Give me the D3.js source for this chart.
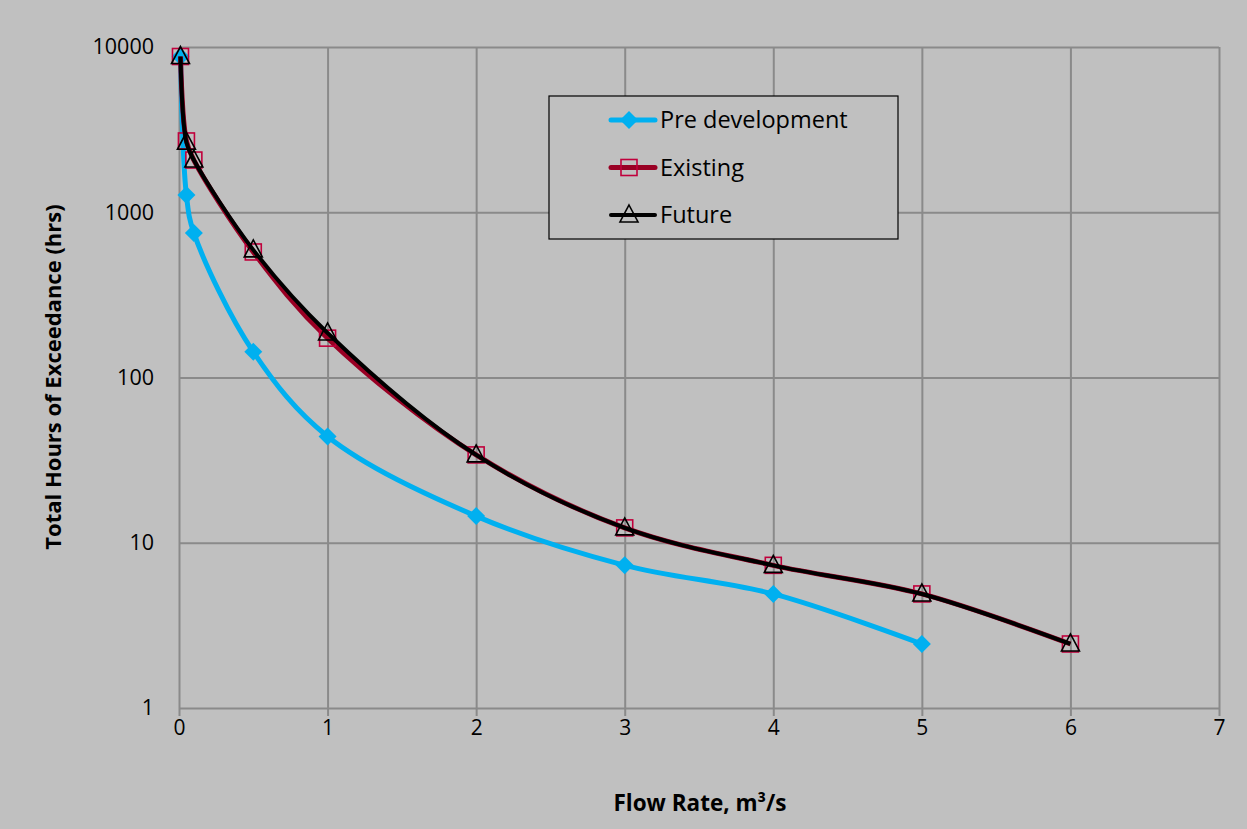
<!DOCTYPE html>
<html>
<head>
<meta charset="utf-8">
<script src="https://cdn.jsdelivr.net/npm/d3@7"></script>
<style>
  body { margin: 0; background: #c0c0c0; }
  text { font-family: "Open Sans", sans-serif; }
</style>
</head>
<body>
<svg id="chart" width="1247" height="829"></svg>
<script>
// flow rates (m3/s) and hours of exceedance
const flowRates = [0.01, 0.05, 0.1, 0.5, 1, 2, 3, 4, 5, 6];
const preDevelopment = [8760, 1270, 750, 143, 44, 14.5, 7.3, 4.9, 2.44];
const existing = [8760, 2700, 2070, 575, 173, 34, 12.3, 7.3, 4.9, 2.44];
const future = [8760, 2650, 2070, 592, 186, 34, 12.3, 7.3, 4.9, 2.44];
const xTicks = [0, 1, 2, 3, 4, 5, 6, 7];
const yTicks = [1, 10, 100, 1000, 10000];

const svg = d3.select("#chart");
const margin = { left: 179, right: 28, top: 47, bottom: 121 };
const width = +svg.attr("width");
const height = +svg.attr("height");

svg.append("rect").attr("width", width).attr("height", height).attr("fill", "#c0c0c0");

const x = d3.scaleLinear().domain([0, 7]).range([margin.left, width - margin.right]);
const y = d3.scaleLog().domain([1, 10000]).range([height - margin.bottom, margin.top]);

const gridColor = "#8a8a8a";

// grid + ticks
const xAxis = svg.append("g")
  .attr("transform", `translate(0,${height - margin.bottom})`)
  .call(d3.axisBottom(x).tickValues(xTicks).tickSize(8).tickFormat(d3.format("d")));
xAxis.select(".domain").remove();
xAxis.selectAll(".tick line").attr("stroke", gridColor).attr("stroke-width", 2)
  .attr("y1", -(height - margin.bottom - margin.top));
xAxis.selectAll(".tick text").attr("y", 12).attr("font-size", 21).attr("fill", "#000");

const yAxis = svg.append("g")
  .attr("transform", `translate(${margin.left},0)`)
  .call(d3.axisLeft(y).tickValues(yTicks).tickSize(8).tickFormat(d3.format("d")));
yAxis.select(".domain").remove();
yAxis.selectAll(".tick line").attr("stroke", gridColor).attr("stroke-width", 2)
  .attr("x2", width - margin.right - margin.left);
yAxis.selectAll(".tick text").attr("x", -25).attr("font-size", 21.5).attr("fill", "#000");

// series
const series = [
  { name: "Pre development", values: preDevelopment, color: "#00b0f0", width: 5, marker: "diamond" },
  { name: "Existing", values: existing, color: "#990024", width: 5, marker: "square" },
  { name: "Future", values: future, color: "#000000", width: 4, marker: "triangle" }
];

const line = d3.line()
  .x((d) => x(d.x))
  .y((d) => y(d.y))
  .curve(d3.curveCatmullRom.alpha(0.5));

function drawMarker(g, type, cx, cy) {
  if (type === "diamond") {
    g.append("path")
      .attr("d", `M${cx},${cy - 9}L${cx + 9},${cy}L${cx},${cy + 9}L${cx - 9},${cy}Z`)
      .attr("fill", "#00b0f0");
  } else if (type === "square") {
    g.append("rect")
      .attr("x", cx - 8).attr("y", cy - 8).attr("width", 16).attr("height", 16)
      .attr("fill", "none").attr("stroke", "#c0003c").attr("stroke-width", 1.6);
  } else {
    g.append("path")
      .attr("d", `M${cx},${cy - 10}L${cx + 9},${cy + 7}L${cx - 9},${cy + 7}Z`)
      .attr("fill", "none").attr("stroke", "#000").attr("stroke-width", 1.6);
  }
}

series.forEach((s) => {
  const pts = s.values.map((v, i) => ({ x: flowRates[i], y: v }));
  const g = svg.append("g");
  g.append("path")
    .datum(pts)
    .attr("d", line)
    .attr("fill", "none")
    .attr("stroke", s.color)
    .attr("stroke-width", s.width)
    .attr("stroke-linejoin", "round");
  pts.forEach((p) => drawMarker(g, s.marker, x(p.x), y(p.y)));
});

// legend
const legend = svg.append("g").attr("transform", "translate(549,96)");
legend.append("rect")
  .attr("width", 349).attr("height", 143)
  .attr("fill", "#c0c0c0").attr("stroke", "#000").attr("stroke-width", 1.2);
series.forEach((s, i) => {
  const ly = 24 + i * 47.5;
  legend.append("line")
    .attr("x1", 62).attr("x2", 106).attr("y1", ly).attr("y2", ly)
    .attr("stroke", s.color).attr("stroke-width", s.width).attr("stroke-linecap", "round");
  drawMarker(legend, s.marker, 80, ly);
  legend.append("text")
    .attr("x", 111).attr("y", ly).attr("dy", "0.35em")
    .attr("font-size", 23.5).attr("fill", "#000")
    .text(s.name);
});

// axis titles
svg.append("text")
  .attr("x", 700).attr("y", 803).attr("dy", "0.35em")
  .attr("text-anchor", "middle").attr("font-size", 22.5).attr("font-weight", "bold")
  .text("Flow Rate, m³/s");

svg.append("text")
  .attr("transform", "translate(53,377) rotate(-90)")
  .attr("dy", "0.35em")
  .attr("text-anchor", "middle").attr("font-size", 22).attr("font-weight", "bold")
  .text("Total Hours of Exceedance (hrs)");
</script>
</body>
</html>
